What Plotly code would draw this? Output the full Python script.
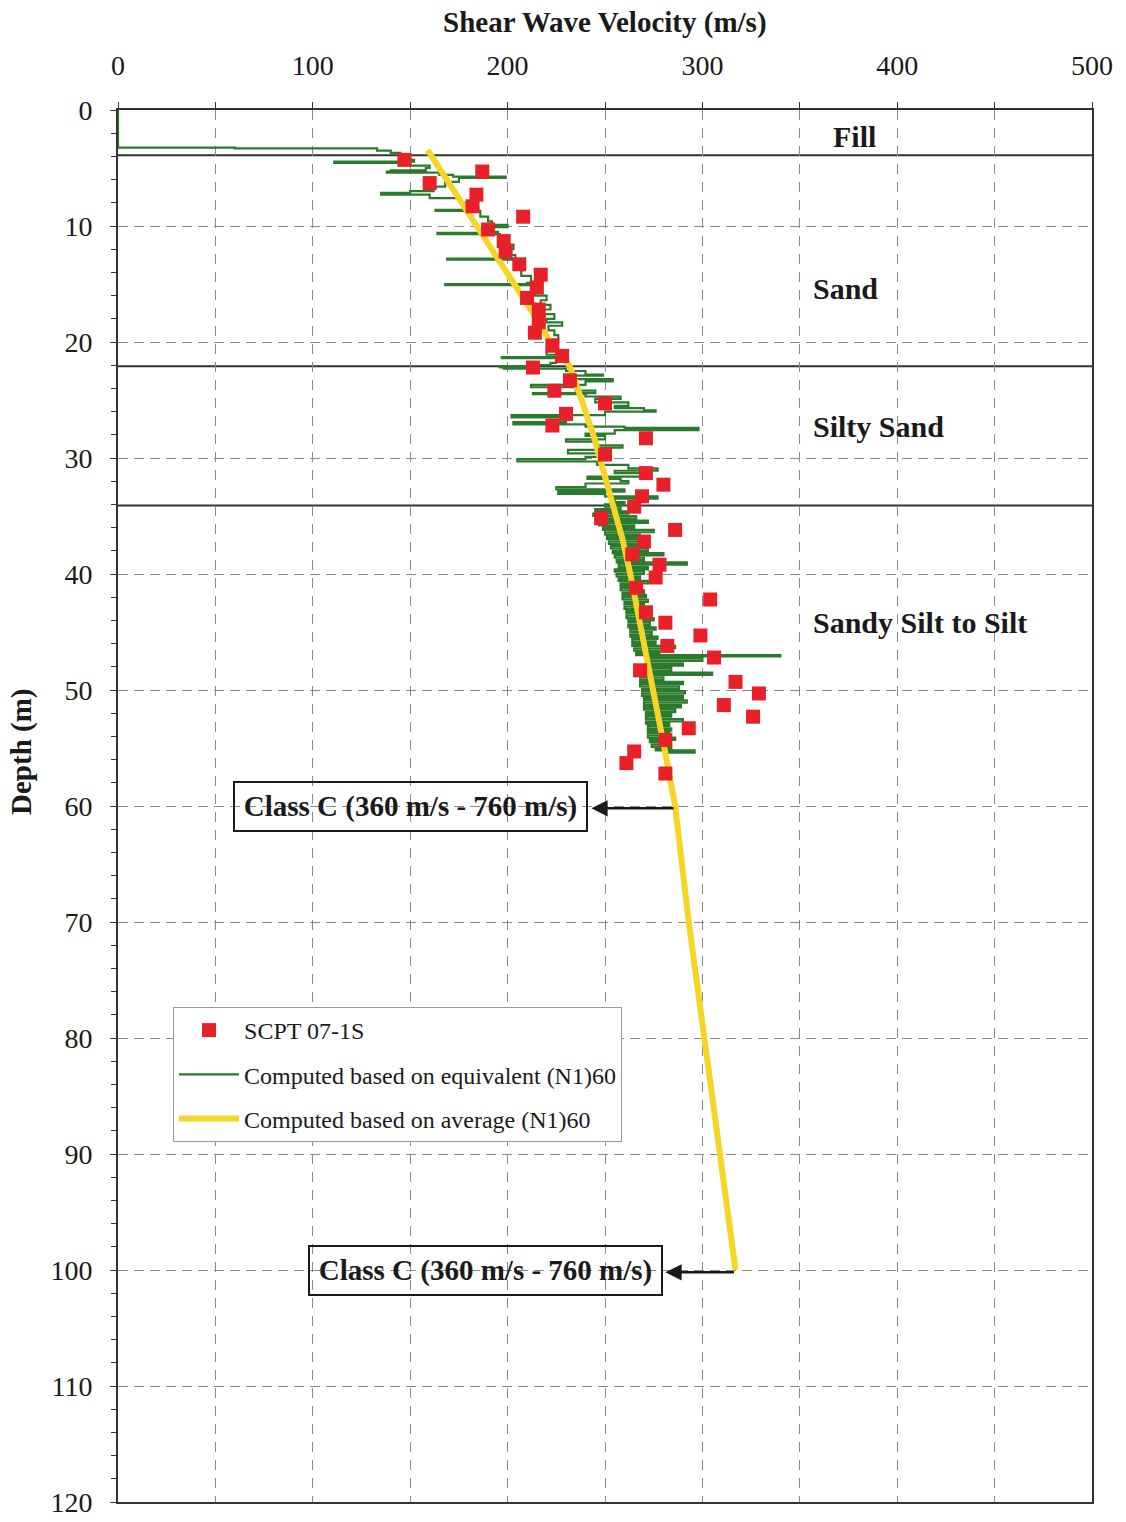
import plotly.graph_objects as go

# ---- Data -------------------------------------------------------------
# SCPT 07-1S measured shear wave velocities
scpt_depth = [4.3, 5.3, 6.3, 7.3, 8.3, 9.2, 10.3, 11.3, 12.2, 13.3, 14.2, 15.3,
              16.2, 17.2, 18.3, 19.2, 20.3, 21.2, 22.2, 23.3, 24.2, 25.3, 26.2,
              27.2, 28.3, 29.7, 31.3, 32.3, 33.3, 34.2, 35.2, 36.2, 37.2, 38.3,
              39.2, 40.3, 41.2, 42.2, 43.3, 44.2, 45.3, 46.2, 47.2, 48.3, 49.3,
              50.3, 51.3, 52.3, 53.3, 54.3, 55.3, 56.3, 57.2]
scpt_vs = [147, 187, 160, 184, 182, 208, 190, 198, 199, 206, 217, 215,
           210, 216, 216, 214, 223, 228, 213, 232, 224, 250, 230,
           223, 271, 250, 271, 280, 269, 265, 248, 286, 270, 264,
           278, 276, 266, 304, 271, 281, 299, 282, 306, 268, 317,
           329, 311, 326, 293, 281, 265, 261, 281]

# Vs computed from equivalent (N1)60
equiv_depth = [0.0, 3.2, 3.25, 3.3, 3.5, 3.7,
               3.9, 4.3, 4.45, 4.55, 4.8, 5.0, 5.2, 5.3, 5.4, 5.6, 5.75, 5.85,
               6.2, 6.6, 7.0, 7.15, 7.3, 7.6, 8.0, 8.5, 8.6, 8.7, 9.2, 9.6,
               9.9, 10.1, 10.5, 10.6, 10.7, 11.2, 11.6, 12.0, 12.5, 12.8, 12.9,
               13.4, 13.8, 14.3, 14.9, 15.0, 15.1, 15.6, 16.0, 16.4, 16.8, 17.2,
               17.6, 18.0, 18.3, 18.6, 19.0, 19.4, 19.8, 20.3, 20.8, 21.1, 21.3,
               21.4, 21.8, 22.0, 22.1, 22.2,
               22.3, 22.5, 22.8, 22.9, 23.2, 23.4, 23.7, 23.9, 24.2, 24.4, 24.5,
               24.7, 24.9, 25.2, 25.5, 25.7, 25.9, 26.0, 26.3, 26.5, 26.9, 27.1,
               27.3, 27.4, 27.6, 27.9, 28.1, 28.4, 28.6, 28.9, 29.1, 29.3, 29.6,
               29.9, 30.1, 30.3, 30.6, 30.9, 31.1, 31.3, 31.6, 31.8, 32.0, 32.2,
               32.5, 32.7, 32.9, 33.1, 33.3, 33.5, 33.8, 34.0, 34.2,
               34.4, 34.6, 34.8, 35.0, 35.2, 35.4, 35.6, 35.8, 36.0, 36.2, 36.4,
               36.6, 36.8, 37.0, 37.2, 37.4, 37.6, 37.8, 38.0, 38.2, 38.4, 38.6,
               38.8, 39.0, 39.2, 39.4, 39.6, 39.8, 40.0, 40.2, 40.4, 40.6, 40.8,
               41.0, 41.2, 41.4, 41.6, 41.8, 42.0, 42.2, 42.4, 42.6, 42.8, 43.0,
               43.2, 43.4, 43.6, 43.8, 44.0, 44.2, 44.4, 44.6, 44.8, 45.0, 45.2,
               45.4, 45.6, 45.8, 46.0, 46.2, 46.4, 46.6, 46.8, 47.0, 47.1, 47.3,
               47.5, 47.7, 47.9, 48.1, 48.3, 48.5, 48.7, 48.9, 49.1, 49.3, 49.5,
               49.7, 49.9, 50.1, 50.3, 50.5, 50.7, 50.9, 51.1, 51.3, 51.5, 51.7,
               51.9, 52.1, 52.3, 52.5, 52.7, 52.9, 53.1, 53.3, 53.5, 53.7, 53.9,
               54.1, 54.3, 54.5, 54.7, 54.9, 55.1, 55.2, 55.4]
equiv_vs = [0, 0, 60, 133, 140, 145,
            150, 152, 111, 150, 160, 158, 140, 138, 165, 172, 199, 175,
            168, 162, 150, 135, 160, 176, 180, 185, 163, 186, 190, 192,
            200, 190, 195, 164, 196, 198, 203, 200, 204, 169, 205,
            208, 207, 212, 210, 168, 212, 214, 220, 217, 222, 218,
            224, 220, 228, 221, 224, 226, 222, 225, 220, 226, 197,
            225, 222, 215, 196, 198,
            230, 240, 249, 230, 254, 240, 212, 235, 245, 213, 240,
            258, 245, 262, 255, 270, 276, 250, 202, 230, 203, 240,
            260, 298, 255, 240, 250, 230, 245, 259, 245, 231, 250,
            240, 205, 246, 262, 277, 255, 268, 241, 258, 262, 240,
            225, 260, 226, 250, 277, 255, 260, 250, 258,
            245, 262, 244, 266, 246, 272, 247, 265, 249, 275, 250,
            268, 251, 270, 252, 266, 253, 272, 254, 280, 255, 270,
            256, 292, 257, 272, 255, 270, 256, 268, 257, 272, 258,
            268, 258, 270, 259, 271, 259, 272, 260, 270, 260, 274,
            261, 272, 261, 275, 262, 273, 262, 276, 263, 274, 263,
            277, 264, 276, 264, 286, 265, 278, 266, 340, 272, 300,
            272, 290, 272, 284, 268, 305, 268, 280, 268, 290, 268,
            288, 269, 291, 269, 290, 270, 292, 270, 289, 270, 286,
            271, 284, 271, 290, 271, 283, 272, 284, 272, 283, 272,
            286, 273, 282, 274, 284, 276, 296, 280]

# Vs computed from average (N1)60
avg_depth = [3.45, 5, 7.5, 10, 12.5, 15, 17.5, 20, 22.1, 25, 28, 31, 34.1,
             37, 40, 45, 50, 55, 60, 70, 80, 90, 100]
avg_vs = [159, 165, 175, 184.5, 194, 204, 213, 222, 232, 238, 244, 249, 254,
          259, 263, 269, 275, 280.5, 286, 293, 301, 309, 317]

# Soil layers
layer_names = ["Fill", "Sand", "Silty Sand", "Sandy Silt to Silt"]
layer_bottoms = [3.9, 22.1, 34.1, None]
layer_label_depth = [2.3, 15.4, 27.3, 44.2]
layer_label_vs = [366, 356, 356, 356]

x_ticks = [0, 100, 200, 300, 400, 500]
y_ticks = list(range(0, 121, 10))

class_text = "Class C (360 m/s - 760 m/s)"
class_depths = [60, 100]

# ---- Figure -----------------------------------------------------------
SERIF = "Liberation Serif"
GRID = "#8a8a8a"
INK = "#1a1a1a"

fig = go.Figure()

fig.add_trace(go.Scatter(
    x=equiv_vs, y=equiv_depth, mode="lines",
    line=dict(color="#2b7a2e", width=2.2, shape="vh"),
    name="Computed based on equivalent (N1)60",
    legendgroup="g2", legendrank=2,
))
fig.add_trace(go.Scatter(
    x=avg_vs, y=avg_depth, mode="lines",
    line=dict(color="#f6d526", width=6),
    name="Computed based on average (N1)60",
    legendgroup="g3", legendrank=3,
))
fig.add_trace(go.Scatter(
    x=scpt_vs, y=scpt_depth, mode="markers",
    marker=dict(symbol="square", size=14, color="#e8202a"),
    name="SCPT 07-1S",
    legendgroup="g1", legendrank=1,
))

# layer boundaries
for b in layer_bottoms:
    if b is None:
        continue
    fig.add_shape(type="line", xref="paper", x0=0, x1=1, yref="y", y0=b, y1=b,
                  line=dict(color="#333333", width=2), layer="between")

# layer names
for name, d, v in zip(layer_names, layer_label_depth, layer_label_vs):
    fig.add_annotation(x=v, y=d, text="<b>%s</b>" % name, showarrow=False,
                       xanchor="left", yanchor="middle",
                       font=dict(family=SERIF, size=30, color=INK))

# site class boxes and arrows pointing from the average profile
box_centers_vs = [150, 188.5]
box_right_vs = [243, 281]
for d, cx, hx in zip(class_depths, box_centers_vs, box_right_vs):
    tail_vs = avg_vs[avg_depth.index(d)]
    fig.add_annotation(x=cx, y=d, text="<b>%s</b>" % class_text, showarrow=False,
                       xanchor="center", yanchor="middle",
                       font=dict(family=SERIF, size=29, color=INK),
                       width=341, height=37, align="center",
                       bordercolor=INK, borderwidth=2, borderpad=5,
                       bgcolor="rgba(0,0,0,0)")
    fig.add_annotation(x=hx, y=d + 0.2, ax=tail_vs, ay=d + 0.2,
                       xref="x", yref="y", axref="x", ayref="y",
                       text="", showarrow=True, arrowhead=2, arrowsize=1.3,
                       arrowwidth=2.5, arrowcolor=INK, standoff=0)

# axis titles
fig.add_annotation(xref="paper", yref="paper", x=0.5, y=1.0632,
                   text="<b>Shear Wave Velocity (m/s)</b>", showarrow=False,
                   xanchor="center", yanchor="middle",
                   font=dict(family=SERIF, size=29, color=INK))
fig.add_annotation(xref="paper", yref="paper", x=-0.0986, y=0.5388,
                   text="<b>Depth (m)</b>", showarrow=False, textangle=-90,
                   xanchor="center", yanchor="middle",
                   font=dict(family=SERIF, size=29, color=INK))

fig.update_layout(
    width=1126, height=1522,
    margin=dict(l=118, r=34, t=110, b=20, autoexpand=False),
    paper_bgcolor="white", plot_bgcolor="white",
    font=dict(family=SERIF, color=INK),
    showlegend=True,
    legend=dict(x=0.0565, y=0.3556, xanchor="left", yanchor="top",
                bgcolor="white", bordercolor="#9a9a9a", borderwidth=1,
                font=dict(family=SERIF, size=24, color=INK),
                itemwidth=60, tracegroupgap=10, traceorder="grouped",
                entrywidth=390, entrywidthmode="pixels"),
)

fig.update_xaxes(
    side="top", range=[0, 500], tickvals=x_ticks, automargin=False,
    showgrid=True, gridcolor=GRID, gridwidth=1, griddash="10px,8px",
    minor=dict(dtick=50, tick0=0, showgrid=True, gridcolor=GRID, gridwidth=1,
               griddash="10px,8px", ticks="outside", ticklen=6,
               tickcolor="#333333"),
    ticks="outside", ticklen=6, tickcolor="#333333",
    showline=True, mirror=True, linecolor="#333333", linewidth=2,
    zeroline=False, ticklabelstandoff=16, ticklabeloverflow="allow",
    tickfont=dict(family=SERIF, size=28, color=INK),
)
fig.update_yaxes(
    range=[120, 0], tickvals=y_ticks, automargin=False,
    showgrid=True, gridcolor=GRID, gridwidth=1, griddash="10px,6px",
    minor=dict(dtick=2, tick0=0, showgrid=False, ticks="outside", ticklen=5,
               tickcolor="#333333"),
    ticks="outside", ticklen=6, tickcolor="#333333",
    showline=True, mirror=True, linecolor="#333333", linewidth=2,
    zeroline=False, ticklabelstandoff=12, ticklabeloverflow="allow",
    tickfont=dict(family=SERIF, size=28, color=INK),
)

fig.write_html("out.html")
